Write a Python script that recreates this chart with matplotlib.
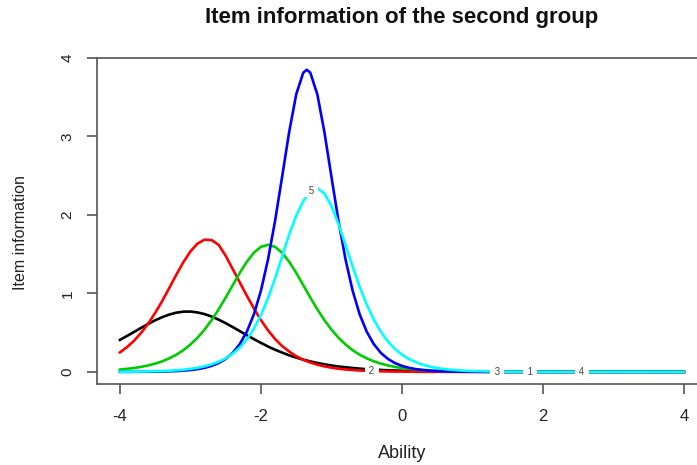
import matplotlib
matplotlib.use('Agg')
import matplotlib.pyplot as plt

plt.rcParams['font.family'] = ['Liberation Sans', 'DejaVu Sans']

# ability grid
theta = [-4.0, -3.9, -3.8, -3.7, -3.6, -3.5, -3.4, -3.3, -3.2, -3.1,
         -3.0, -2.9, -2.8, -2.7, -2.6, -2.5, -2.4, -2.3, -2.2, -2.1,
         -2.0, -1.9, -1.8, -1.7, -1.6, -1.5, -1.4, -1.35, -1.3, -1.2,
         -1.1, -1.0, -0.9, -0.8, -0.7, -0.6, -0.5, -0.4, -0.3, -0.2,
         -0.1, 0.0, 0.1, 0.2, 0.3, 0.4, 0.5, 0.6, 0.7, 0.8,
         0.9, 1.0, 1.5, 2.0, 2.5, 3.0, 3.5, 4.0]

# item information curves, items 1..5
item1 = [0.408, 0.458, 0.509, 0.561, 0.611, 0.658, 0.698, 0.731, 0.755, 0.768,
         0.769, 0.758, 0.737, 0.706, 0.666, 0.621, 0.571, 0.520, 0.468, 0.418,
         0.370, 0.324, 0.283, 0.246, 0.212, 0.183, 0.156, 0.145, 0.134, 0.114,
         0.097, 0.082, 0.069, 0.059, 0.050, 0.042, 0.035, 0.030, 0.025, 0.021,
         0.018, 0.015, 0.013, 0.011, 0.009, 0.007, 0.006, 0.005, 0.004, 0.004,
         0.003, 0.003, 0.001, 0.0005, 0.0002, 0.0001, 0.0, 0.0]
item2 = [0.249, 0.316, 0.397, 0.497, 0.615, 0.752, 0.905, 1.070, 1.239, 1.399,
         1.536, 1.635, 1.685, 1.680, 1.619, 1.480, 1.310, 1.140, 0.970, 0.810,
         0.660, 0.530, 0.420, 0.330, 0.260, 0.200, 0.155, 0.137, 0.120, 0.092,
         0.071, 0.054, 0.041, 0.031, 0.024, 0.018, 0.014, 0.011, 0.008, 0.006,
         0.0046, 0.0035, 0.0027, 0.0020, 0.0015, 0.0012, 0.0009, 0.0007, 0.0005, 0.0004,
         0.0003, 0.0002, 0.0001, 0.0, 0.0, 0.0, 0.0, 0.0]
item3 = [0.030, 0.039, 0.050, 0.064, 0.083, 0.106, 0.135, 0.173, 0.219, 0.277,
         0.349, 0.435, 0.539, 0.660, 0.797, 0.948, 1.106, 1.262, 1.404, 1.519,
         1.594, 1.620, 1.594, 1.519, 1.404, 1.262, 1.106, 1.027, 0.948, 0.797,
         0.660, 0.539, 0.435, 0.349, 0.277, 0.219, 0.173, 0.135, 0.106, 0.083,
         0.064, 0.050, 0.039, 0.030, 0.023, 0.018, 0.014, 0.011, 0.0085, 0.0066,
         0.0051, 0.0040, 0.0011, 0.0003, 0.0001, 0.0, 0.0, 0.0]
item4 = [0.0005, 0.0007, 0.0010, 0.0015, 0.0022, 0.0033, 0.0049, 0.0073, 0.0108, 0.0160,
         0.0237, 0.0350, 0.0518, 0.0767, 0.113, 0.166, 0.243, 0.355, 0.513, 0.734,
         1.036, 1.432, 1.923, 2.485, 3.056, 3.536, 3.813, 3.850, 3.813, 3.536,
         3.056, 2.485, 1.923, 1.432, 1.036, 0.734, 0.513, 0.355, 0.243, 0.166,
         0.113, 0.0767, 0.0518, 0.0350, 0.0237, 0.0160, 0.0108, 0.0073, 0.0049, 0.0033,
         0.0022, 0.0015, 0.0002, 0.0, 0.0, 0.0, 0.0, 0.0]
item5 = [0.0018, 0.0024, 0.0033, 0.0045, 0.0061, 0.0083, 0.011, 0.015, 0.021, 0.028,
         0.039, 0.052, 0.071, 0.096, 0.129, 0.174, 0.233, 0.311, 0.415, 0.550,
         0.725, 0.940, 1.190, 1.470, 1.750, 1.990, 2.175, 2.245, 2.300, 2.340,
         2.274, 2.114, 1.884, 1.616, 1.343, 1.086, 0.859, 0.668, 0.513, 0.389,
         0.293, 0.220, 0.164, 0.122, 0.090, 0.067, 0.049, 0.036, 0.027, 0.020,
         0.0145, 0.011, 0.0023, 0.0005, 0.0001, 0.0, 0.0, 0.0]

items = [item1, item2, item3, item4, item5]
colors = ['black', 'red', '#00cd00', 'blue', 'cyan']

# item number labels placed along the curves
label_text = ['1', '2', '3', '4', '5']
label_x = [1.82, -0.43, 1.35, 2.55, -1.29]
label_y = [0.0, 0.01, 0.0, 0.0, 2.31]

fig = plt.figure(figsize=(6.97, 4.65), dpi=100)
ax = fig.add_axes([0.1397, 0.1742, 0.874, 0.7017])

for vals, col in zip(items, colors):
    ax.plot(theta, vals, color=col, lw=1.9, solid_joinstyle='round')

for t, lx, ly in zip(label_text, label_x, label_y):
    ax.text(lx, ly, ' ' + t + ' ', fontsize=7, color='#444444', ha='center', va='center',
            zorder=5, bbox=dict(boxstyle='square,pad=0.15', fc='white', ec='none'))

ax.set_xlim(-4.32, 4.32)
ax.set_ylim(-0.154, 4.004)
ax.set_xticks([-4, -2, 0, 2, 4])
ax.set_yticks([0, 1, 2, 3, 4])
ax.set_xticklabels(['-4', '-2', '0', '2', '4'])
for s in ax.spines.values():
    s.set_color('#555555')
    s.set_linewidth(1.2)
ax.tick_params(axis='both', direction='out', length=7.3, width=1.2, color='#555555',
               labelcolor='#222222')
ax.tick_params(axis='x', pad=10.5, labelsize=12)
ax.tick_params(axis='y', pad=9, labelsize=11)
for lab in ax.get_yticklabels():
    lab.set_rotation(90)
    lab.set_va('center')

ax.set_xlabel('Ability', fontsize=13, color='#222222', labelpad=15)
ax.set_ylabel('Item information', fontsize=11.5, color='#222222')
ax.yaxis.set_label_coords(21 / 697, 0.5, transform=fig.transFigure)
ax.yaxis.label.set_va('center')
fig.text(402 / 697, 1 - 18 / 465, 'Item information of the second group',
         fontsize=16, fontweight='bold', ha='center', va='center', color='#111111')

fig.savefig('out.png', dpi=100)
